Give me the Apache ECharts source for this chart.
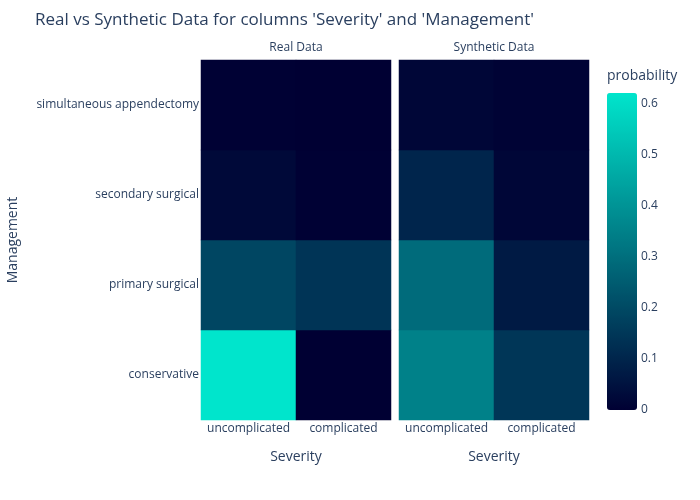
<!DOCTYPE html>
<html>
<head>
<meta charset="utf-8">
<script src="https://cdn.jsdelivr.net/npm/echarts@6/dist/echarts.min.js"></script>
<style>html,body{margin:0;padding:0;background:#fff}#c{width:700px;height:500px}</style>
</head>
<body>
<div id="c"></div>
<script>
const severity = ['uncomplicated', 'complicated'];
const management = ['conservative', 'primary surgical', 'secondary surgical', 'simultaneous appendectomy'];
// rows follow `management`, columns follow `severity`
const realConservative = [0.62, 0.0];
const realPrimary = [0.19, 0.14];
const realSecondary = [0.025, 0.004];
const realSimultaneous = [0.003, 0.001];
const synConservative = [0.35, 0.146];
const synPrimary = [0.29, 0.07];
const synSecondary = [0.1, 0.015];
const synSimultaneous = [0.015, 0.008];
const colorTicks = [0, 0.1, 0.2, 0.3, 0.4, 0.5, 0.6];
const zMin = 0, zMax = 0.62;

const realRows = [realConservative, realPrimary, realSecondary, realSimultaneous];
const synRows = [synConservative, synPrimary, synSecondary, synSimultaneous];
function toCells(rows) {
  const out = [];
  rows.forEach((r, yi) => r.forEach((v, xi) => out.push([xi, yi, v])));
  return out;
}

const FONT = '"Open Sans", sans-serif';
const TXT = '#2a3f5f';

const chart = echarts.init(document.getElementById('c'), null, {renderer: 'canvas'});
chart.setOption({
  backgroundColor: '#fff',
  animation: false,
  textStyle: {fontFamily: FONT, color: TXT},
  title: [
    {text: "Real vs Synthetic Data for columns 'Severity' and 'Management'", left: 35, top: 12, padding: 0,
     textStyle: {fontFamily: FONT, fontSize: 17, fontWeight: 'normal', color: TXT}},
    {text: 'Real Data', left: 296, top: 42, padding: 0, textAlign: 'center',
     textStyle: {fontFamily: FONT, fontSize: 12, fontWeight: 'normal', color: TXT}},
    {text: 'Synthetic Data', left: 494, top: 42, padding: 0, textAlign: 'center',
     textStyle: {fontFamily: FONT, fontSize: 12, fontWeight: 'normal', color: TXT}},
    {text: 'probability', left: 607, top: 69, padding: 0,
     textStyle: {fontFamily: FONT, fontSize: 14, fontWeight: 'normal', color: TXT}}
  ],
  grid: [
    {left: 201, width: 190, top: 60, height: 360},
    {left: 399, width: 190, top: 60, height: 360},
    {left: 607, width: 30, top: 93, height: 317}
  ],
  xAxis: [
    {type: 'category', gridIndex: 0, data: severity, axisLine: {show: false}, axisTick: {show: false},
     axisLabel: {fontFamily: FONT, fontSize: 12, color: TXT, margin: 3, interval: 0},
     name: 'Severity', nameLocation: 'middle', nameGap: 30, nameTextStyle: {fontFamily: FONT, fontSize: 14, color: TXT}},
    {type: 'category', gridIndex: 1, data: severity, axisLine: {show: false}, axisTick: {show: false},
     axisLabel: {fontFamily: FONT, fontSize: 12, color: TXT, margin: 3, interval: 0},
     name: 'Severity', nameLocation: 'middle', nameGap: 30, nameTextStyle: {fontFamily: FONT, fontSize: 14, color: TXT}},
    {type: 'value', gridIndex: 2, show: false}
  ],
  yAxis: [
    {type: 'category', gridIndex: 0, data: management, axisLine: {show: false}, axisTick: {show: false},
     axisLabel: {fontFamily: FONT, fontSize: 12, color: TXT, margin: 2, interval: 0},
     name: 'Management', nameLocation: 'middle', nameGap: 181, nameRotate: 90,
     nameTextStyle: {fontFamily: FONT, fontSize: 14, color: TXT}},
    {type: 'category', gridIndex: 1, data: management, axisLine: {show: false}, axisTick: {show: false},
     axisLabel: {show: false}},
    {type: 'value', gridIndex: 2, position: 'right', min: zMin, max: zMax, interval: 0.1,
     axisLine: {show: false}, axisTick: {show: false}, splitLine: {show: false},
     axisLabel: {fontFamily: FONT, fontSize: 12, color: TXT, margin: 4, showMaxLabel: false,
       formatter: v => { const t = colorTicks.find(c => Math.abs(c - v) < 1e-6); return t === undefined ? '' : String(t); }}}
  ],
  visualMap: {
    type: 'continuous', min: zMin, max: zMax, calculable: false, show: true,
    left: 607, top: 93, itemWidth: 30, itemHeight: 317, padding: 0,
    text: null, showLabel: false, hoverLink: false,
    inRange: {color: ['#000033', '#00e5cc']},
    seriesIndex: [0, 1]
  },
  series: [
    {type: 'heatmap', xAxisIndex: 0, yAxisIndex: 0, data: toCells(realRows), itemStyle: {borderWidth: 0}, emphasis: {disabled: true}},
    {type: 'heatmap', xAxisIndex: 1, yAxisIndex: 1, data: toCells(synRows), itemStyle: {borderWidth: 0}, emphasis: {disabled: true}}
  ]
});
</script>
</body>
</html>
